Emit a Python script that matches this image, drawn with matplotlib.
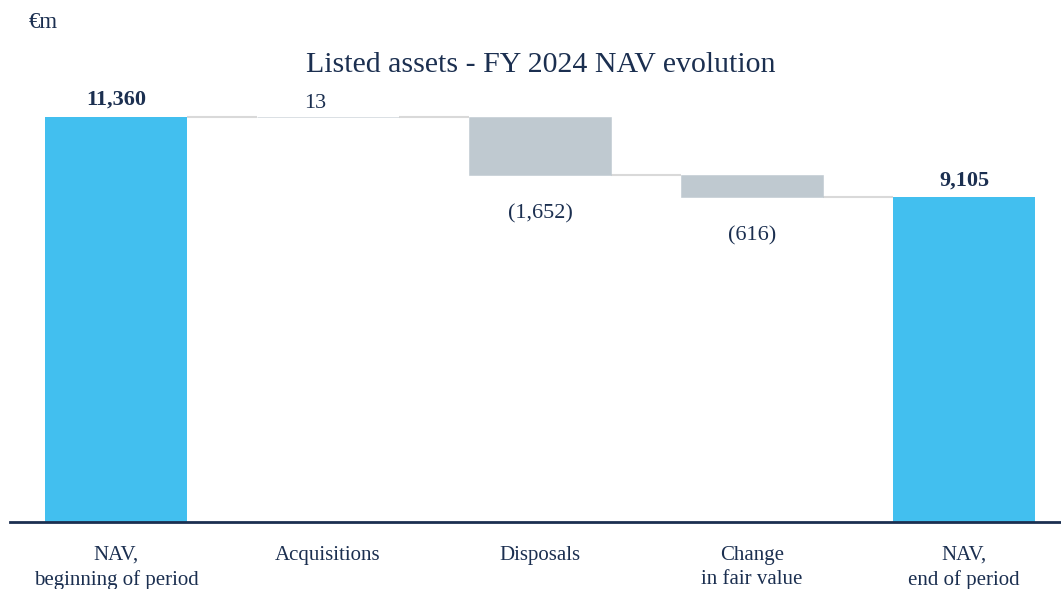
import matplotlib.pyplot as plt

# data
categories = ["NAV,\nbeginning of period", "Acquisitions", "Disposals",
              "Change\nin fair value", "NAV,\nend of period"]
values = [11360, 13, -1652, -616, 9105]
labels = ["11,360", "13", "(1,652)", "(616)", "9,105"]
is_total = [True, False, False, False, True]

BLUE = "#42bfef"
GREY = "#bfc9d0"
NAVY = "#1b2f50"
LINE = "#d9d9d9"

plt.rcParams['font.family'] = ['Liberation Serif', 'DejaVu Serif']

fig = plt.figure(figsize=(10.61, 5.89), dpi=100)
ax = fig.add_axes([10 / 1061, 67 / 589, 1051 / 1061, 522 / 589])

width = 0.67
running = 0
bottoms, tops = [], []
for i, (v, tot) in enumerate(zip(values, is_total)):
    if tot:
        b, h = 0, v
        running = v
    else:
        b = running if v >= 0 else running + v
        h = abs(v)
        running += v
    bottoms.append(b)
    tops.append(b + h)
    ax.bar(i, h, bottom=b, width=width, color=BLUE if tot else GREY,
           edgecolor=BLUE if tot else GREY, linewidth=0.4 if not tot else 0,
           zorder=2)

# connector lines
running = 0
levels = []
for v, tot in zip(values, is_total):
    running = v if tot else running + v
    levels.append(running)
for i in range(len(values) - 1):
    ax.plot([i + width / 2, i + 1 - width / 2], [levels[i], levels[i]],
            color=LINE, lw=1.5, zorder=1, solid_capstyle='butt')

# value labels
for i, (v, tot, lab) in enumerate(zip(values, is_total, labels)):
    if v >= 0:
        off = 17 if tot else 13
        ax.annotate(lab, (i - (0 if tot else 0.06), tops[i]), xytext=(0, off),
                    textcoords='offset pixels', ha='center', va='center',
                    fontsize=16, color=NAVY,
                    fontweight='bold' if tot else 'normal')
    else:
        ax.annotate(lab, (i, bottoms[i]), xytext=(0, -38),
                    textcoords='offset pixels', ha='center', va='center',
                    fontsize=16, color=NAVY)

ax.set_xlim(-0.5, 4.457)
ax.set_ylim(0, 14642)
ax.set_yticks([])
ax.set_xticks(range(len(categories)))
ax.set_xticklabels(categories, fontsize=15, color=NAVY, linespacing=1.36)
ax.tick_params(axis='x', length=0, pad=17)
for s in ['top', 'right', 'left']:
    ax.spines[s].set_visible(False)
ax.spines['bottom'].set_color(NAVY)
ax.spines['bottom'].set_linewidth(2)

fig.text(541 / 1061, 1 - 65 / 589, "Listed assets - FY 2024 NAV evolution",
         ha='center', va='center', fontsize=21.5, color=NAVY)
fig.text(29 / 1061, 1 - 23 / 589, "€m", ha='left', va='center',
         fontsize=16.5, color=NAVY)

fig.savefig("out.png", dpi=100)
